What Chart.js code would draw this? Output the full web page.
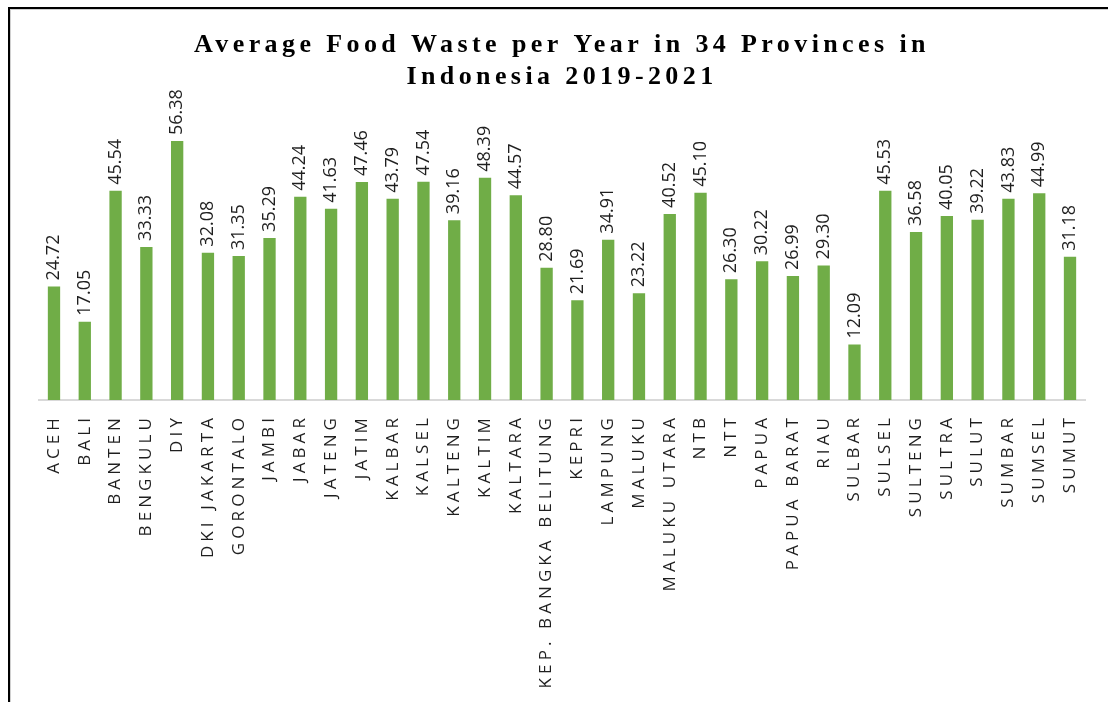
<!DOCTYPE html>
<html>
<head>
<meta charset="utf-8">
<script src="https://cdn.jsdelivr.net/npm/chart.js@4.4.0/dist/chart.umd.min.js"></script>
<style>
  html, body { margin: 0; padding: 0; background: #ffffff; }
  #wrap { position: relative; width: 1108px; height: 702px; overflow: hidden; }
  #frame { position: absolute; left: 8px; top: 7px; width: 1300px; height: 900px;
           border-left: 2px solid #000; border-top: 2px solid #000;
           box-shadow: inset 1px 1px 0 #d0d0d0; pointer-events: none; }
  canvas { position: absolute; left: 0; top: 0; }
</style>
</head>
<body>
<div id="wrap">
  <canvas id="c" width="1108" height="702"></canvas>
  <div id="frame"></div>
</div>
<script>
const titleLines = ['Average Food Waste per Year in 34 Provinces in', 'Indonesia 2019-2021'];
const provinces = ['ACEH','BALI','BANTEN','BENGKULU','DIY','DKI JAKARTA','GORONTALO','JAMBI','JABAR','JATENG','JATIM','KALBAR','KALSEL','KALTENG','KALTIM','KALTARA','KEP. BANGKA BELITUNG','KEPRI','LAMPUNG','MALUKU','MALUKU UTARA','NTB','NTT','PAPUA','PAPUA BARAT','RIAU','SULBAR','SULSEL','SULTENG','SULTRA','SULUT','SUMBAR','SUMSEL','SUMUT'];
const foodWaste = [24.72,17.05,45.54,33.33,56.38,32.08,31.35,35.29,44.24,41.63,47.46,43.79,47.54,39.16,48.39,44.57,28.80,21.69,34.91,23.22,40.52,45.10,26.30,30.22,26.99,29.30,12.09,45.53,36.58,40.05,39.22,43.83,44.99,31.18];

const TICK_SPACING = '4.1px';
const TITLE_SPACING = '4.4px';

const spacingPlugin = {
  id: 'spacing',
  beforeDraw(chart) {
    chart.ctx.letterSpacing = TICK_SPACING;
  },
  afterDraw(chart) {
    chart.ctx.letterSpacing = '0px';
  }
};

const valueLabels = {
  id: 'valueLabels',
  afterDatasetsDraw(chart) {
    const ctx = chart.ctx;
    const meta = chart.getDatasetMeta(0);
    ctx.save();
    ctx.letterSpacing = '0px';
    ctx.font = '18px "Open Sans"';
    ctx.fillStyle = '#1f1f1f';
    ctx.textAlign = 'left';
    ctx.textBaseline = 'middle';
    meta.data.forEach((bar, i) => {
      ctx.save();
      ctx.translate(bar.x, bar.y - 6);
      ctx.rotate(-Math.PI / 2);
      ctx.fillText(foodWaste[i].toFixed(2), 0, 0);
      ctx.restore();
    });
    ctx.restore();
  }
};

const chart = new Chart(document.getElementById('c'), {
  type: 'bar',
  data: {
    labels: provinces,
    datasets: [{
      data: foodWaste,
      backgroundColor: '#70AD47',
      borderWidth: 0,
      barPercentage: 0.4,
      categoryPercentage: 1.0
    }]
  },
  options: {
    responsive: false,
    animation: false,
    layout: { padding: { left: 38.6, right: 22.6, top: 0, bottom: 0 } },
    plugins: {
      legend: { display: false },
      tooltip: { enabled: false },
      title: {
        display: true,
        text: titleLines,
        color: '#000000',
        font: { family: '"Liberation Serif"', size: 26, weight: 'bold', lineHeight: 1.2 },
        padding: { top: 30, bottom: 32 }
      }
    },
    scales: {
      x: {
        grid: { display: false },
        border: { display: true, color: '#d9d9d9', width: 2 },
        ticks: {
          autoSkip: false,
          minRotation: 90,
          maxRotation: 90,
          padding: 6,
          color: '#1f1f1f',
          font: { family: '"Open Sans"', size: 17 }
        },
        afterFit(scale) { scale.height = 302; }
      },
      y: {
        display: false,
        min: 0,
        max: 60
      }
    }
  },
  plugins: [spacingPlugin, valueLabels]
});

// apply wider letter spacing to the title block only
if (chart.titleBlock) {
  const origDraw = chart.titleBlock.draw;
  chart.titleBlock.draw = function () {
    const ctx = this.ctx || chart.ctx;
    ctx.save();
    ctx.letterSpacing = TITLE_SPACING;
    origDraw.apply(this, arguments);
    ctx.restore();
  };
  chart.draw();
}
</script>
</body>
</html>
